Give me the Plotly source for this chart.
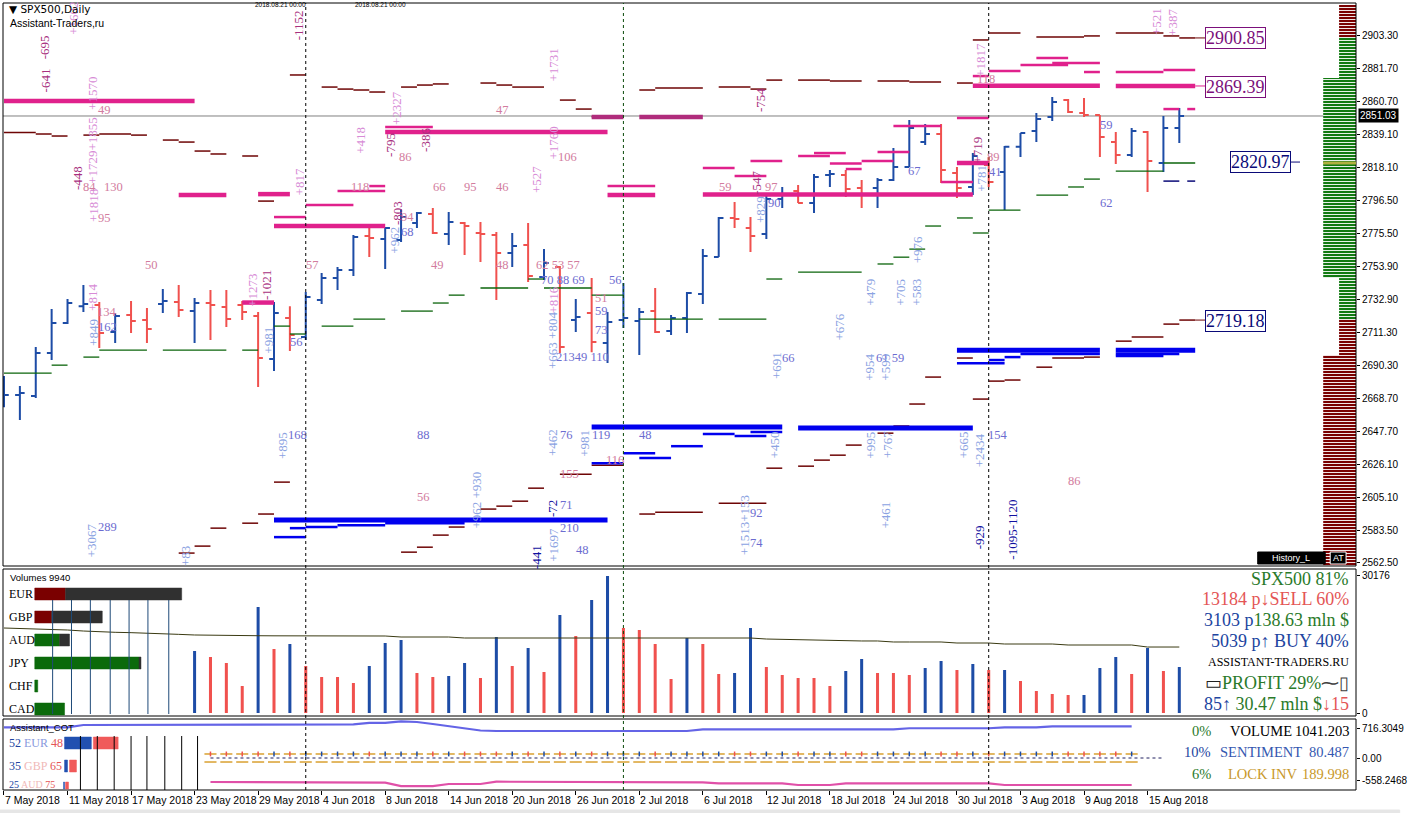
import plotly.graph_objects as go

# ---------------- DATA ----------------
bar_idx = list(range(75))
opens = [2666.0, 2670.9, 2670.3, 2698.0, 2717.4, 2728.3, 2729.0, 2711.6, 2722.5, 2719.3,
         2729.6, 2730.9, 2725.1, 2730.3, 2727.7, 2729.0, 2721.9, 2694.2, 2720.6, 2708.3,
         2732.2, 2746.4, 2751.6, 2773.5, 2771.6, 2771.0, 2781.9, 2787.7, 2774.8, 2781.9,
         2775.5, 2774.2, 2762.6, 2767.7, 2747.1, 2753.5, 2719.3, 2723.8, 2704.5, 2719.3,
         2718.7, 2725.1, 2712.2, 2720.6, 2736.1, 2760.0, 2785.2, 2778.7, 2774.8, 2797.4,
         2802.6, 2794.8, 2812.9, 2812.9, 2804.5, 2804.5, 2809.7, 2818.1, 2834.2, 2839.4,
         2814.2, 2805.2, 2819.4, 2814.9, 2831.1, 2841.3, 2850.4, 2861.3, 2853.0, 2851.7,
         2834.2, 2825.8, 2840.7, 2820.7, 2843.3]
highs = [2683.2, 2676.7, 2701.9, 2726.4, 2732.9, 2741.9, 2730.9, 2723.8, 2731.6, 2727.1,
         2739.3, 2741.9, 2733.5, 2738.7, 2738.7, 2731.6, 2724.5, 2730.9, 2728.3, 2737.4,
         2749.7, 2753.5, 2774.2, 2778.7, 2779.3, 2790.9, 2789.0, 2791.6, 2789.0, 2782.6,
         2782.6, 2776.1, 2775.5, 2781.9, 2765.1, 2754.2, 2732.9, 2746.4, 2724.5, 2743.2,
         2727.1, 2740.0, 2722.5, 2737.4, 2765.1, 2785.8, 2795.5, 2785.8, 2799.4, 2805.2,
         2806.5, 2813.6, 2816.2, 2816.2, 2809.7, 2811.0, 2830.4, 2848.4, 2845.8, 2845.8,
         2818.1, 2827.1, 2824.5, 2831.7, 2840.0, 2852.9, 2863.3, 2862.0, 2862.6, 2851.7,
         2840.7, 2843.3, 2841.3, 2851.0, 2856.2]
lows = [2663.1, 2654.8, 2669.0, 2693.5, 2716.7, 2724.5, 2701.2, 2704.5, 2710.9, 2704.5,
        2723.8, 2721.3, 2704.5, 2706.4, 2714.8, 2719.3, 2676.1, 2686.4, 2699.3, 2706.4,
        2729.6, 2738.7, 2747.7, 2760.0, 2752.2, 2769.7, 2778.7, 2774.8, 2767.7, 2761.3,
        2756.8, 2732.2, 2753.5, 2743.8, 2745.1, 2698.0, 2711.6, 2698.6, 2691.6, 2714.2,
        2696.7, 2711.0, 2709.6, 2711.0, 2729.6, 2760.0, 2778.7, 2763.2, 2771.6, 2791.6,
        2794.8, 2788.4, 2805.2, 2798.7, 2791.6, 2791.6, 2809.1, 2818.1, 2832.3, 2807.8,
        2798.1, 2800.0, 2805.2, 2790.3, 2824.5, 2834.2, 2847.8, 2852.9, 2850.4, 2824.5,
        2820.0, 2824.5, 2802.0, 2814.9, 2833.6]
closes = [2670.9, 2672.2, 2698.0, 2717.4, 2730.3, 2729.6, 2711.0, 2721.9, 2718.7, 2713.5,
          2731.6, 2725.8, 2730.3, 2729.0, 2720.0, 2724.5, 2694.8, 2723.8, 2709.6, 2734.2,
          2746.4, 2751.6, 2772.9, 2772.2, 2778.7, 2785.8, 2788.4, 2775.5, 2782.6, 2780.0,
          2774.8, 2762.6, 2767.1, 2747.7, 2756.1, 2701.9, 2721.3, 2705.1, 2718.0, 2720.6,
          2724.5, 2711.6, 2720.6, 2736.7, 2760.6, 2785.2, 2784.5, 2773.5, 2797.4, 2800.7,
          2794.8, 2811.6, 2813.6, 2803.9, 2800.7, 2809.7, 2818.1, 2843.3, 2839.4, 2816.2,
          2804.5, 2825.2, 2808.4, 2831.1, 2840.0, 2849.1, 2860.0, 2853.6, 2851.7, 2837.5,
          2825.8, 2841.3, 2822.0, 2843.3, 2851.03]
current_price = 2851.03

date_pos = [0, 4, 8, 12, 16, 20, 24, 28, 32, 36, 40, 44, 48, 52, 56, 60, 64, 68, 72]
date_labels = ["7 May 2018", "11 May 2018", "17 May 2018", "23 May 2018", "29 May 2018",
               "4 Jun 2018", "8 Jun 2018", "14 Jun 2018", "20 Jun 2018", "26 Jun 2018",
               "2 Jul 2018", "6 Jul 2018", "12 Jul 2018", "18 Jul 2018", "24 Jul 2018",
               "30 Jul 2018", "3 Aug 2018", "9 Aug 2018", "15 Aug 2018"]
month_marks = [19, 39, 62]

price_ticks = [2903.30, 2881.70, 2860.70, 2839.10, 2818.10, 2796.50, 2775.50, 2753.90,
               2732.90, 2711.30, 2690.30, 2668.70, 2647.70, 2626.10, 2605.10, 2583.50, 2562.50]

vol_idx = list(range(12, 75))
volumes = [13560, 12250, 10940, 5900, 23180, 14000, 15090, 10280, 7870, 7870,
           6560, 10280, 15310, 15970, 8750, 7870, 8090, 10940, 7660, 16620,
           10280, 14220, 8970, 21430, 16840, 24710, 29960, 18590, 18150, 15090,
           7440, 16400, 15090, 8530, 8750, 18590, 10060, 8310, 7660, 7660,
           5900, 9190, 11810, 8750, 8750, 8310, 9840, 11370, 9400, 10720,
           9400, 9400, 7000, 4810, 4160, 3940, 3940, 9840, 12250, 8530,
           14220, 9190, 10060]
vol_dir = ['b', 'r', 'r', 'r', 'b', 'r', 'b', 'r', 'r', 'r',
           'r', 'b', 'b', 'b', 'r', 'r', 'b', 'b', 'r', 'b',
           'r', 'b', 'r', 'b', 'r', 'b', 'b', 'r', 'r', 'r',
           'r', 'b', 'r', 'r', 'b', 'b', 'r', 'r', 'r', 'r',
           'r', 'b', 'b', 'r', 'r', 'r', 'b', 'b', 'r', 'b',
           'r', 'b', 'r', 'r', 'r', 'r', 'b', 'b', 'b', 'r',
           'b', 'r', 'b']
vol_ma = [18590, 18520, 18450, 18370, 18150, 17930, 17720, 17650, 17570, 17500,
          17350, 17200, 17060, 17060, 17000, 16950, 16900, 16880, 16860, 16840,
          16840, 16840, 16840, 16840, 16840, 16620, 16620, 16620, 16620, 16400,
          16400, 16400, 16400, 16400, 16400, 16400, 16400, 16400, 16400, 16400,
          16400, 16400, 16400, 16400, 16400, 16400, 16400, 16400, 16180, 16100,
          15970, 15970, 15970, 15750, 15750, 15750, 15530, 15530, 15530, 15530,
          15310, 15310, 15310, 15090, 15090, 15090, 15090, 14870, 14870, 14870,
          14870, 14870, 14430, 14430, 14430]

cot_idx = list(range(0, 72))
cot_volume = [758, 758, 758, 758, 758, 815, 815, 815, 815, 815,
              815, 815, 815, 815, 832, 832, 832, 832, 832, 832,
              832, 832, 832, 865, 865, 902, 889, 840, 790, 741,
              679, 667, 667, 667, 667, 667, 667, 667, 667, 667,
              667, 667, 667, 667, 709, 709, 709, 709, 709, 709,
              709, 709, 709, 709, 709, 709, 709, 734, 734, 734,
              734, 734, 734, 758, 758, 758, 783, 783, 783, 783,
              783, 783]
lock_idx = list(range(13, 72))
cot_lock = [-593, -593, -593, -593, -593, -593, -610, -610, -610, -610,
            -610, -610, -692, -692, -692, -642, -642, -642, -585, -585,
            -585, -585, -585, -585, -585, -585, -601, -601, -601, -601,
            -601, -601, -626, -626, -626, -626, -626, -667, -667, -667,
            -626, -626, -626, -626, -626, -626, -626, -626, -626, -626,
            -667, -667, -667, -667, -667, -667, -667, -667, -667]
cot_ticks = [716.3049, 0.0, -558.2468]
cot_tick_text = ["716.3049", "0.00", "-558.2468"]
vol_ticks = [0, 30176]

# level segments: (from bar, to bar, price)
MAG_THICK = [(0, 12, 2860.7), (24, 38, 2840.7), (38, 41, 2800.0), (44, 61, 2800.3),
             (11, 14, 2800.0), (16, 18, 2800.6), (17, 24, 2780.0), (15, 17, 2730.6),
             (61, 69, 2870.6), (70, 75, 2870.4), (60, 62, 2820.7)]
MAG_DARK = [(37, 39, 2850.4), (40, 44, 2850.4)]
MAG_THIN = [(24, 27, 2843.9), (38, 41, 2805.8), (17, 19, 2785.8), (19, 22, 2793.5),
            (21, 24, 2802.6), (23, 24, 2805.8), (44, 46, 2817.4), (46, 48, 2812.3),
            (47, 49, 2821.9), (50, 52, 2825.2), (51, 53, 2827.1), (52, 54, 2820.4),
            (53, 54, 2816.8), (54, 56, 2821.9), (55, 57, 2827.8), (56, 59, 2844.5),
            (59, 61, 2808.4), (60, 62, 2849.7), (61, 62, 2876.8), (62, 64, 2880.1),
            (64, 67, 2883.9), (65, 67, 2888.5), (66, 69, 2885.2), (68, 69, 2879.4),
            (70, 73, 2879.4), (73, 75, 2880.7), (73, 74, 2855.5), (74.5, 75, 2855.5)]
DARK_RED = [(0, 2, 2840.4), (2, 3, 2839.4), (3, 4, 2838.1), (5, 6, 2838.7), (6, 8, 2839.4),
            (8, 9, 2838.7), (10, 11, 2835.5), (11, 12, 2834.2), (12, 13, 2828.4), (13, 14, 2826.5),
            (15, 16, 2825.2), (16, 17, 2796.1), (18, 19, 2877.5), (20, 21, 2869.7), (21, 22, 2868.4),
            (22, 23, 2867.8), (23, 24, 2866.5), (25, 26, 2869.7), (26, 27, 2871.0), (27, 28, 2871.7),
            (30, 31, 2872.3), (31, 32, 2871.0), (32, 34, 2869.7), (35, 36, 2861.3), (36, 37, 2855.5),
            (37, 39, 2850.6), (40, 41, 2867.8), (41, 44, 2869.1), (45, 47, 2869.7), (47, 48, 2868.4),
            (48, 49, 2874.2), (50, 52, 2874.2), (52, 54, 2873.6), (55, 57, 2873.6), (57, 59, 2872.9),
            (60, 61, 2872.3), (61, 62, 2900.1), (62, 64, 2904.6), (65, 68, 2902.0), (68, 69, 2902.7),
            (70, 73, 2904.6), (73, 74, 2902.7), (74, 75, 2901.4),
            (11, 12, 2568.9), (12, 13, 2573.4), (13, 14, 2585.0), (15, 16, 2588.2), (16, 17, 2594.1),
            (17, 18, 2614.7), (25, 26, 2569.5), (26, 27, 2572.7), (27, 28, 2580.5), (28, 29, 2585.7),
            (30, 31, 2597.3), (31, 32, 2599.2), (32, 33, 2602.4), (33, 34, 2610.8), (35, 37, 2619.8),
            (37, 39, 2625.6), (40, 41, 2594.1), (41, 44, 2595.3), (45, 48, 2601.1), (48, 49, 2623.7),
            (50, 51, 2625.0), (51, 52, 2628.9), (52, 53, 2632.1), (53, 54, 2638.6), (55, 56, 2646.3),
            (56, 57, 2650.9), (57, 58, 2665.1), (58, 59, 2682.5), (60, 61, 2694.8), (61, 62, 2668.3),
            (62, 63, 2679.9), (63, 64, 2680.6), (65, 66, 2688.9), (66, 68, 2694.8), (68, 69, 2695.4),
            (70, 71, 2705.7), (71, 73, 2708.3), (73, 74, 2716.7), (74, 75, 2719.3)]
GREEN = [(0, 3, 2685.1), (3, 4, 2690.2), (5, 6, 2695.4), (6, 9, 2699.9), (10, 14, 2699.9),
         (15, 16, 2699.9), (17, 18, 2715.4), (18, 19, 2710.3), (20, 22, 2715.4), (22, 24, 2719.9),
         (25, 27, 2725.1), (27, 28, 2730.3), (28, 29, 2735.4), (30, 33, 2740.0), (33, 34, 2745.8),
         (34, 37, 2740.0), (37, 39, 2735.4), (40, 44, 2719.9), (45, 48, 2719.9), (48, 49, 2745.8),
         (50, 54, 2750.3), (55, 56, 2755.5), (56, 57, 2759.9), (57, 58, 2765.1), (58, 59, 2780.0),
         (60, 61, 2785.2), (61, 62, 2775.5), (62, 64, 2790.3), (65, 67, 2800.0), (67, 68, 2805.2),
         (68, 69, 2810.3), (70, 73, 2815.5), (73, 75, 2820.7)]
BLUE_THICK = [(17, 38, 2590.2), (37, 49, 2650.2), (50, 61, 2649.6), (60, 69, 2699.9), (70, 75, 2699.9)]
BLUE_THIN = [(17, 19, 2579.2), (18, 19, 2585.0), (19, 21, 2585.7), (21, 24, 2586.9), (24, 29, 2588.2),
             (37, 39, 2626.9), (39, 41, 2633.4), (40, 42, 2630.2), (42, 44, 2637.9), (44, 46, 2645.7),
             (46, 48, 2644.4), (47, 49, 2647.0), (60, 63, 2691.5), (62, 63, 2693.5), (63, 64, 2695.4),
             (64, 69, 2697.4), (70, 74, 2697.4), (70, 73, 2696.1)]
NAVY_DASH = [(73, 74, 2809.0), (74.5, 75, 2809.0)]

# volume profile zones: (top price, bottom price, kind, colour key)
PROFILE = [(2922.7, 2902.0, "narrow", "dr"), (2902.0, 2875.5, "narrow", "gr"),
           (2875.5, 2746.4, "wide", "gr"), (2746.4, 2719.9, "narrow", "gr"),
           (2719.9, 2696.7, "narrow", "dr"), (2696.7, 2560.6, "wide", "dr")]
profile_poc = 2820.7

# price boxes: (text, bar pos, price, colour)
PRICE_BOXES = [("2900.85", 77.56, 2901.4, "#7B0F7B"), ("2869.39", 77.56, 2869.7, "#7B0F7B"),
               ("2820.97", 79.1, 2821.3, "#0A0A78"), ("2719.18", 77.56, 2718.6, "#0A0A78")]

# chart annotations: (text, bar pos, price, colour key, angle)
NOTES = [
    ("49", 6.3, 2854.9, "pk", 0), ("84", 5.4, 2805.2, "pk", 0), ("130", 6.9, 2805.2, "pk", 0),
    ("95", 6.3, 2785.2, "pk", 0), ("50", 9.3, 2754.8, "pk", 0), ("134", 6.5, 2724.5, "pk", 0),
    ("162", 6.5, 2714.8, "bl", 0), ("57", 19.4, 2754.8, "pk", 0), ("56", 18.4, 2705.1, "bl", 0),
    ("118", 22.4, 2805.2, "pk", 0), ("86", 25.25, 2824.5, "pk", 0), ("66", 27.4, 2805.2, "pk", 0),
    ("95", 29.4, 2805.2, "pk", 0), ("46", 31.4, 2805.2, "pk", 0), ("47", 31.4, 2854.9, "pk", 0),
    ("106", 35.5, 2824.5, "pk", 0), ("94", 25.4, 2785.8, "pk", 0), ("68", 25.4, 2776.1, "bl", 0),
    ("49", 27.3, 2754.8, "pk", 0), ("48", 31.4, 2754.8, "pk", 0), ("62 53 57", 34.9, 2754.8, "pk", 0),
    ("70 88 69", 35.2, 2745.1, "bl", 0), ("56", 38.5, 2745.1, "bl", 0), ("51", 37.6, 2733.5, "pk", 0),
    ("59", 37.6, 2725.0, "bl", 0), ("73", 37.6, 2713.0, "bl", 0), ("21349 110", 36.4, 2695.4, "bl", 0),
    ("59", 45.4, 2805.2, "pk", 0), ("97", 48.3, 2805.2, "pk", 0), ("90", 48.5, 2794.8, "bl", 0),
    ("67", 57.3, 2815.5, "bl", 0), ("89", 62.3, 2824.5, "pk", 0), ("41", 62.4, 2814.9, "bl", 0),
    ("118", 61.8, 2874.9, "pk", 0), ("59", 69.4, 2845.2, "bl", 0), ("62", 69.4, 2794.8, "bl", 0),
    ("66", 49.4, 2694.8, "bl", 0), ("61 59", 55.8, 2694.8, "bl", 0), ("168", 18.5, 2645.1, "bl", 0),
    ("88", 26.4, 2645.1, "bl", 0), ("76", 35.4, 2645.1, "bl", 0), ("119", 37.6, 2645.1, "bl", 0),
    ("48", 40.4, 2645.1, "bl", 0), ("154", 62.6, 2645.1, "bl", 0), ("86", 67.4, 2615.4, "pk", 0),
    ("56", 26.4, 2605.0, "pk", 0), ("155", 35.6, 2619.9, "pk", 0), ("116", 38.5, 2628.9, "pk", 0),
    ("71", 35.4, 2599.9, "bl", 0), ("210", 35.6, 2585.0, "bl", 0), ("48", 36.4, 2570.8, "bl", 0),
    ("92", 47.4, 2594.7, "bl", 0), ("74", 47.4, 2575.3, "bl", 0), ("289", 6.5, 2585.7, "bl", 0),
    ("-641", 2.6, 2874.2, "dv", -90), ("-695", 2.6, 2895.6, "dv", -90), ("+1602", 4.4, 2914.3, "vi", -90),
    ("+1570", 5.6, 2865.9, "vi", -90), ("-448", 4.6, 2811.0, "dv", -90), ("+1729+1855", 5.6, 2829.1, "vi", -90),
    ("+1818", 5.6, 2793.5, "vi", -90), ("-1152", 18.6, 2909.8, "dv", -90), ("+817", 18.6, 2808.4, "vi", -90),
    ("+418", 22.4, 2835.5, "vi", -90), ("-795", 24.3, 2832.3, "dv", -90), ("+2327", 24.75, 2856.2, "vi", -90),
    ("-386", 26.5, 2835.5, "dv", -90), ("-803", 24.75, 2788.4, "dv", -90), ("+962", 24.6, 2771.0, "lb", -90),
    ("+1731", 34.6, 2883.9, "vi", -90), ("+1760", 34.6, 2833.6, "vi", -90), ("+527", 33.5, 2809.7, "vi", -90),
    ("-754", 47.6, 2861.3, "dv", -90), ("-547", 47.4, 2807.8, "dv", -90), ("+829", 47.6, 2790.3, "lb", -90),
    ("+719", 61.3, 2829.1, "dv", -90), ("+781", 61.5, 2811.0, "lb", -90), ("+1817", 61.5, 2887.2, "vi", -90),
    ("+521", 72.6, 2911.7, "vi", -90), ("+387", 73.6, 2911.7, "vi", -90), ("+1273", 15.6, 2738.7, "vi", -90),
    ("-1021", 16.5, 2741.9, "dv", -90), ("+814", 5.6, 2734.2, "vi", -90), ("+849", 5.6, 2711.6, "lb", -90),
    ("+981", 16.6, 2706.4, "lb", -90), ("+895", 17.5, 2638.6, "lb", -90), ("+3067", 5.5, 2577.3, "lb", -90),
    ("+83", 11.4, 2567.0, "lb", -90), ("+962 +930", 29.75, 2603.1, "lb", -90), ("-72", 34.5, 2597.9, "nv", -90),
    ("+1697", 34.6, 2574.0, "lb", -90), ("-441", 33.5, 2566.3, "nv", -90), ("+816", 34.6, 2732.2, "vi", -90),
    ("+663 +804", 34.5, 2706.4, "lb", -90), ("+462", 34.5, 2640.5, "lb", -90), ("+981", 36.5, 2639.9, "lb", -90),
    ("+676", 52.6, 2714.8, "lb", -90), ("+479", 54.5, 2737.4, "lb", -90), ("+705", 56.4, 2737.4, "lb", -90),
    ("+583", 57.4, 2737.4, "lb", -90), ("+976", 57.5, 2764.5, "lb", -90), ("+691", 48.6, 2690.2, "lb", -90),
    ("+954", 54.5, 2688.9, "lb", -90), ("+599", 55.5, 2688.9, "lb", -90), ("+450", 48.5, 2638.6, "lb", -90),
    ("+995", 54.5, 2638.6, "lb", -90), ("+767", 55.6, 2638.6, "lb", -90), ("+665", 60.4, 2638.6, "lb", -90),
    ("+2434", 61.4, 2635.4, "lb", -90), ("+1513+153", 46.6, 2587.0, "lb", -90), ("+461", 55.5, 2593.4, "lb", -90),
    ("-929", 61.4, 2579.2, "nv", -90), ("-1095-1120", 63.5, 2583.7, "nv", -90),
]

# currency widget (volume panel): name, red/green part px, grey part px
CURRENCIES = ["EUR", "GBP", "AUD", "JPY", "CHF", "CAD"]
cur_main_px = [31, 17, 25, 105, 3, 30]
cur_rest_px = [117, 51, 10, 2, 0, 0]
cur_main_col = ["#7A0000", "#7A0000", "#0B6A0B", "#0B6A0B", "#0B6A0B", "#0B6A0B"]

# ---------------- STYLE / GEOMETRY ----------------
W, H = 1410, 813
PL, PR, PT, PB = 3, 1366, 3, 790
X0, X1 = -0.0625, 85.125
Y_MAIN = (2560.56, 2923.96)
Y_VOL = (-656, 31493)
Y_COT = (-790, 963)
BLUE = "#1D4CA6"
RED = "#F0514E"
COL = {"pk": "#D27C9E", "vi": "#D78BD6", "dv": "#A8307E", "bl": "#6C6CD0", "lb": "#8AA2E2", "nv": "#1010A0"}
SERIF = "Liberation Serif"
SANS = "Liberation Sans"


def PX(x):
    return (x - PL) / (PR - PL)


def PY(y):
    return (PB - y) / (PB - PT)


fig = go.Figure()


def seg_trace(segs, color, width, dash=None):
    xs, ys = [], []
    for a, b, p in segs:
        xs += [a, b, None]
        ys += [p, p, None]
    fig.add_trace(go.Scatter(x=xs, y=ys, mode="lines", hoverinfo="skip",
                             line=dict(color=color, width=width, dash=dash),
                             xaxis="x", yaxis="y"))


# volume profile
for top, bot, kind, ck in PROFILE:
    left = 83.06 if kind == "wide" else 84.06
    c = "#7A0000" if ck == "dr" else "#127A12"
    fig.add_trace(go.Bar(orientation="h", y=[(top + bot) / 2], x=[X1 - left], base=[left],
                         width=[top - bot], xaxis="x", yaxis="y", hoverinfo="skip",
                         marker=dict(color=c, line=dict(width=0),
                                     pattern=dict(shape="-", fgcolor="white", fgopacity=1,
                                                  size=3, solidity=0.3, fillmode="overlay"))))

seg_trace(DARK_RED, "#6E0505", 1.5)
seg_trace(GREEN, "#0B640B", 1.3)
seg_trace(BLUE_THIN, "#0000EE", 2.5)
seg_trace(BLUE_THICK, "#0000EE", 5)
seg_trace(MAG_THIN, "#E0218C", 2.5)
seg_trace(MAG_THICK, "#E0218C", 4.5)
seg_trace(MAG_DARK, "#B02C7C", 4.5)
seg_trace(NAVY_DASH, "#0A0A78", 1.5)

fig.add_trace(go.Ohlc(x=bar_idx, open=opens, high=highs, low=lows, close=closes,
                      xaxis="x", yaxis="y", tickwidth=0.3, hoverinfo="skip",
                      increasing=dict(line=dict(color=BLUE, width=2)),
                      decreasing=dict(line=dict(color=RED, width=2))))

# volume panel
fig.add_trace(go.Bar(x=vol_idx, y=volumes, width=0.19, xaxis="x", yaxis="y2", hoverinfo="skip",
                     marker=dict(color=[BLUE if d == "b" else RED for d in vol_dir], line=dict(width=0))))
fig.add_trace(go.Scatter(x=bar_idx, y=vol_ma, mode="lines", line=dict(color="#3A3A12", width=1),
                         xaxis="x", yaxis="y2", hoverinfo="skip"))

# COT panel
fig.add_trace(go.Scatter(x=cot_idx, y=cot_volume, mode="lines", line=dict(color="#6464E6", width=2.2),
                         xaxis="x", yaxis="y3", hoverinfo="skip"))
fig.add_trace(go.Scatter(x=lock_idx, y=cot_lock, mode="lines", line=dict(color="#E050A8", width=2.2),
                         xaxis="x", yaxis="y3", hoverinfo="skip"))
fig.add_trace(go.Scatter(x=[13, 73], y=[0, 0], mode="lines", line=dict(color="#202060", width=1, dash="dot"),
                         xaxis="x", yaxis="y3", hoverinfo="skip"))
ox, oy, tx_b, ty_b, tx_r, ty_r = [], [], [], [], [], []
for i in lock_idx:
    ox += [i - 0.38, i + 0.38, None, i - 0.38, i + 0.38, None]
    oy += [99, 99, None, -99, -99, None]
    if closes[i] >= opens[i]:
        tx_b += [i, i, None]
        ty_b += [40, 160, None]
    else:
        tx_r += [i, i, None]
        ty_r += [40, 160, None]
fig.add_trace(go.Scatter(x=ox, y=oy, mode="lines", line=dict(color="#D9A030", width=1.5),
                         xaxis="x", yaxis="y3", hoverinfo="skip"))
fig.add_trace(go.Scatter(x=tx_b, y=ty_b, mode="lines", line=dict(color=BLUE, width=1.5),
                         xaxis="x", yaxis="y3", hoverinfo="skip"))
fig.add_trace(go.Scatter(x=tx_r, y=ty_r, mode="lines", line=dict(color=RED, width=1.5),
                         xaxis="x", yaxis="y3", hoverinfo="skip"))

shapes = []
ann = []


def prect(x0, y0, x1, y1, fill=None, line="black", lw=1):
    shapes.append(dict(type="rect", xref="paper", yref="paper", x0=PX(x0), x1=PX(x1),
                       y0=PY(y1), y1=PY(y0), fillcolor=fill if fill else "rgba(0,0,0,0)",
                       line=dict(color=line, width=lw), layer="above"))


def pline(x0, y0, x1, y1, color="black", lw=1, dash=None):
    shapes.append(dict(type="line", xref="paper", yref="paper", x0=PX(x0), x1=PX(x1),
                       y0=PY(y0), y1=PY(y1), line=dict(color=color, width=lw, dash=dash), layer="above"))


def ptext(text, x, y, size=12, color="black", family=SERIF, xanchor="left", **kw):
    ann.append(dict(text=text, xref="paper", yref="paper", x=PX(x), y=PY(y), showarrow=False,
                    xanchor=xanchor, yanchor="middle", font=dict(size=size, color=color, family=family), **kw))


# panel frames
prect(PL, PT, PR, 566)
prect(PL, 569, PR, 716)
prect(PL, 719, PR, PB)
prect(0, 810, 1410, 813, fill="#E6E6E6", line="#E6E6E6")

# current price line
shapes.append(dict(type="line", xref="paper", yref="y", x0=0, x1=1, y0=current_price, y1=current_price,
                   line=dict(color="#808080", width=1), layer="below"))
# point of control in profile
shapes.append(dict(type="line", xref="x", yref="y", x0=83.06, x1=X1, y0=profile_poc, y1=profile_poc,
                   line=dict(color="#B0B040", width=3), layer="above"))
# month separators
for k, m in enumerate(month_marks):
    shapes.append(dict(type="line", xref="x", yref="paper", x0=m, x1=m, y0=0, y1=1,
                       line=dict(color="#0A4A0A" if k == 1 else "black", width=1, dash="dot"), layer="above"))
# connectors to price boxes
for y0, c in [(2901.4, "#6E0505"), (2870.4, "#E0218C"), (2719.3, "#6E0505")]:
    shapes.append(dict(type="line", xref="x", yref="y", x0=75, x1=75.65, y0=y0, y1=y0,
                       line=dict(color=c, width=1)))
shapes.append(dict(type="line", xref="x", yref="y", x0=81.0, x1=81.6, y0=2821.3, y1=2821.3,
                   line=dict(color="#0A0A78", width=1)))

# price boxes
for t, xb, pb, c in PRICE_BOXES:
    ann.append(dict(text=t, x=xb, y=pb, xref="x", yref="y", showarrow=False,
                    font=dict(family=SERIF, size=18, color=c), bgcolor="white",
                    bordercolor=c, borderwidth=1, borderpad=0))

# chart notes
for t, xb, pb, ck, ang in NOTES:
    ann.append(dict(text=t, x=xb, y=pb, xref="x", yref="y", showarrow=False, textangle=ang,
                    font=dict(family=SERIF, size=13 if ang else 12.5, color=COL[ck])))

# current price label on axis
ann.append(dict(text="2851.03", xref="paper", yref="y", x=PX(1368), y=current_price, xanchor="left",
                showarrow=False, bgcolor="black", font=dict(family=SANS, size=10, color="white"), borderpad=1))

# titles
ptext("▼ SPX500,Daily", 7, 9, size=10.5, family="DejaVu Sans")
ptext("Assistant-Traders,ru", 8, 23, size=10.5, family=SANS)
ptext("2018.08.21 00:00", 283, 5, size=6.5, family=SANS, xanchor="center")
ptext("2018.08.21 00:00", 383, 5, size=6.5, family=SANS, xanchor="center")

# History_L / AT boxes
prect(1267, 552, 1335, 564, fill="black")
ptext("History_L", 1301, 558, size=9, color="white", family=SANS, xanchor="center")
prect(1340, 552, 1356, 564, fill="black", line="white")
ptext("AT", 1348, 558, size=9, color="white", family=SANS, xanchor="center")

# volume panel widget
ptext("Volumes 9940", 8, 577, size=9.5, family=SANS)
row_y = [594, 617, 640, 663, 686, 709]
for k, name in enumerate(CURRENCIES):
    ptext(name, 7, row_y[k], size=12)
    y0, y1 = row_y[k] - 6, row_y[k] + 6
    prect(35, y0, 35 + cur_main_px[k], y1, fill=cur_main_col[k], line=cur_main_col[k], lw=0.5)
    if cur_rest_px[k] > 0:
        prect(35 + cur_main_px[k], y0, 35 + cur_main_px[k] + cur_rest_px[k], y1,
              fill="#303030", line="#303030", lw=0.5)
for xv in [53, 72, 91, 111, 130, 149, 170]:
    pline(xv, 600, xv, 714, color="#1F4A78", lw=1)

# right info block (volume panel)
G, Rd, Bl = "#2A7A2A", "#E45555", "#2144A0"
ptext("SPX500 81%", 1361, 579, size=18, color=G, xanchor="right")
ptext("13184 p↓SELL 60%", 1361, 599, size=18, color=Rd, xanchor="right")
ptext("<span style='color:%s'>3103 p</span><span style='color:%s'>138.63 mln $</span>" % (Bl, G),
      1361, 620, size=18, xanchor="right")
ptext("5039 p↑ BUY 40%", 1361, 641, size=18, color=Bl, xanchor="right")
ptext("ASSISTANT-TRADERS.RU", 1361, 662, size=12, color="black", xanchor="right")
ptext("<span style='color:#202020'>▭</span>PROFIT 29%<span style='color:#404040'>⁓▯</span>",
      1361, 683, size=18, color=G, xanchor="right")
ptext("<span style='color:%s'>85↑ </span><span style='color:%s'>30.47 mln $</span><span style='color:%s'>↓15</span>"
      % (Bl, G, Rd), 1361, 704, size=18, xanchor="right")

# COT widget
ptext("Assistant_COT", 8, 727, size=9.5, family=SANS)
ptext("<span style='color:#2144A0'>52 </span><span style='color:#8899DD'>EUR </span><span style='color:#E45555'>48</span>",
      7, 743, size=12)
prect(65, 737, 92, 749, fill="#2150B0", line="#2150B0", lw=0.5)
prect(94, 737, 119, 749, fill="#F05A5A", line="#F05A5A", lw=0.5)
ptext("<span style='color:#2144A0'>35 </span><span style='color:#F0B8B8'>GBP </span><span style='color:#E45555'>65</span>",
      7, 766, size=12)
prect(65, 760, 68, 772, fill="#2150B0", line="#2150B0", lw=0.5)
prect(70, 760, 77, 772, fill="#F05A5A", line="#F05A5A", lw=0.5)
ptext("<span style='color:#2144A0'>25 </span><span style='color:#F0B8B8'>AUD </span><span style='color:#E45555'>75</span>",
      7, 784, size=10)
prect(64, 782, 65, 789, fill="#2150B0", line="#2150B0", lw=0.5)
prect(66, 782, 69, 789, fill="#F05A5A", line="#F05A5A", lw=0.5)
for xv in [81, 98, 115, 132, 148, 166, 183, 199]:
    pline(xv, 736, xv, 790, color="black", lw=1)

# COT right texts
CS = 14.5
ptext("0%", 1222, 731, size=CS, color=G, xanchor="right")
ptext("VOLUME", 1237, 731, size=CS, color="black")
ptext("1041.203", 1361, 731, size=CS, color="black", xanchor="right")
ptext("10%", 1222, 752, size=CS, color=Bl, xanchor="right")
ptext("SENTIMENT", 1227, 752, size=CS, color="#3557B0")
ptext("80.487", 1361, 752, size=CS, color="#3557B0", xanchor="right")
ptext("6%", 1222, 774, size=CS, color=G, xanchor="right")
ptext("LOCK INV", 1235, 774, size=CS, color="#C8982A")
ptext("189.998", 1361, 774, size=CS, color="#C8982A", xanchor="right")

# date labels
for p, t in zip(date_pos, date_labels):
    ann.append(dict(text=t, x=p - 0.06, y=PY(800), xref="x", yref="paper", xanchor="left",
                    yanchor="middle", showarrow=False, font=dict(family=SANS, size=10.5, color="black")))

axis_font = dict(family=SANS, size=10, color="black")
fig.update_layout(
    width=W, height=H, autosize=False,
    margin=dict(l=PL, r=W - PR, t=PT, b=H - PB, pad=0),
    paper_bgcolor="white", plot_bgcolor="white",
    showlegend=False, hovermode=False, barmode="overlay",
    shapes=shapes, annotations=ann,
    xaxis=dict(range=[X0, X1], anchor="y3", showgrid=False, zeroline=False, showline=False,
               tickvals=date_pos, showticklabels=False, ticks="outside", ticklen=4,
               tickcolor="black", rangeslider=dict(visible=False), fixedrange=True),
    yaxis=dict(domain=[PY(566), 1], range=list(Y_MAIN), side="right", anchor="x",
               tickvals=price_ticks, ticktext=["%.2f" % v for v in price_ticks],
               ticks="outside", ticklen=3, tickcolor="black", tickfont=axis_font,
               showgrid=False, zeroline=False, showline=False, fixedrange=True),
    yaxis2=dict(domain=[PY(716), PY(569)], range=list(Y_VOL), side="right", anchor="x",
                tickvals=vol_ticks, ticktext=[str(v) for v in vol_ticks],
                ticks="outside", ticklen=3, tickcolor="black", tickfont=axis_font,
                showgrid=False, zeroline=False, showline=False, fixedrange=True),
    yaxis3=dict(domain=[0, PY(719)], range=list(Y_COT), side="right", anchor="x",
                tickvals=cot_ticks, ticktext=cot_tick_text,
                ticks="outside", ticklen=3, tickcolor="black", tickfont=axis_font,
                showgrid=False, zeroline=False, showline=False, fixedrange=True),
)

fig.write_html("out.html", config={"displayModeBar": False, "staticPlot": True})
